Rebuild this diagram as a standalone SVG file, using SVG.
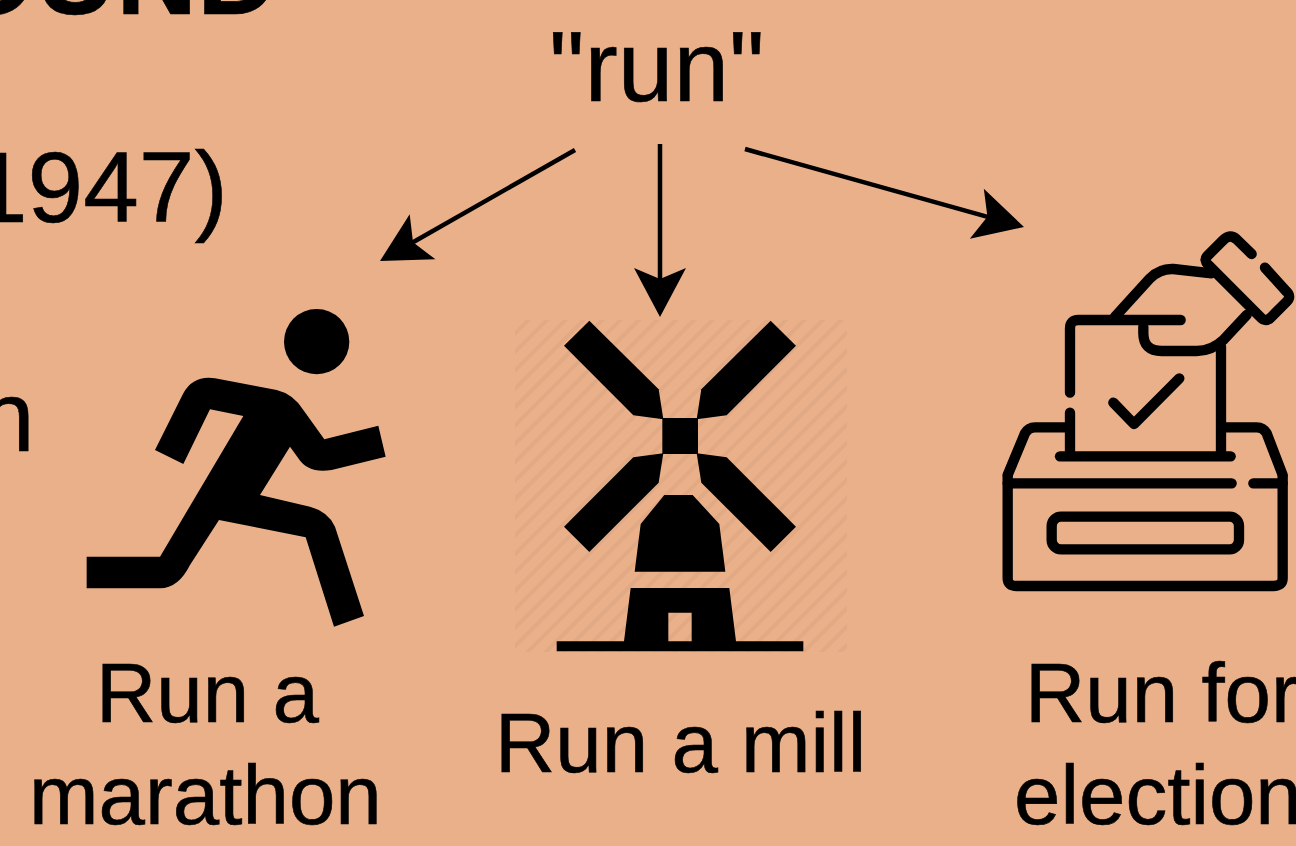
<svg xmlns="http://www.w3.org/2000/svg" width="1296" height="846" viewBox="0 0 1296 846">
<style>
text{font-family:"Liberation Sans",Arial,sans-serif;fill:#000;stroke:#000;stroke-width:.6px}
.big{font-size:100px}
.lab{font-size:83.5px}
.arrow{fill:none;stroke:#000;stroke-width:4.5px}
.line{fill:none;stroke:#000;stroke-width:31;stroke-linecap:round;stroke-linejoin:round}
</style>
<defs>
<marker id="head" markerUnits="userSpaceOnUse" markerWidth="56" markerHeight="60" refX="17" refY="30" orient="auto" viewBox="0 0 56 60">
<path d="M3,4 L52,30 L3,56 L14,30 Z" fill="#000"/>
</marker>
<pattern id="hatch" width="13" height="13" patternUnits="userSpaceOnUse" patternTransform="rotate(-45)">
<rect width="13" height="13" fill="#e9b08a"/>
<rect width="13" height="4" fill="#e2aa84"/>
</pattern>
<filter id="soft" x="-5%" y="-5%" width="110%" height="110%"><feGaussianBlur stdDeviation="0.6"/></filter>
</defs>
<rect id="background" width="1296" height="846" fill="#e9b08a"/>
<g id="cut-text">
<text x="278" y="14" text-anchor="end" font-size="112" font-weight="700">OUND</text>
<text class="big" x="-28" y="222">1947)</text>
<text class="big" x="-21" y="451">n</text>
</g>
<g id="word-run"><text class="big" x="549" y="100.5">"run"</text></g>
<g id="connectors">
<path class="arrow" marker-end="url(#head)" d="M575,150 L410.4,243.7"/>
<path class="arrow" marker-end="url(#head)" d="M660,144 L660,282"/>
<path class="arrow" marker-end="url(#head)" d="M745,149 L990.3,217.6"/>
</g>
<g id="marathon">
<g transform="translate(60 290) scale(.33333)" filter="url(#soft)">
<circle cx="770" cy="155" r="98"/>
<path d="M80,800 H300 L550,378 L450,358 L370,522 L285,480 L370,310 Q400,255 465,265 L650,300 Q700,312 730,360 L793,448 L955,407 L977,500 L815,540 Q745,552 715,505 L690,470 L600,615 L750,650 Q805,665 825,710 L912,978 L822,1010 L737,742 L477,690 L390,825 Q355,895 300,895 H80 Z"/>
</g>
<text class="lab" x="96" y="722">Run a</text>
<text class="lab" x="29" y="824">marathon</text>
</g>
<g id="mill">
<rect x="515" y="320" width="332" height="332" fill="url(#hatch)"/>
<g transform="translate(500 300) scale(.33333)" filter="url(#soft)">
<path d="M268,62 L192,137 L400,346 L490,358 L476,268 Z"/>
<path d="M812,62 L888,137 L680,346 L590,358 L604,268 Z"/>
<path d="M192,680 L268,756 L476,548 L490,460 L400,472 Z"/>
<path d="M888,680 L812,756 L604,548 L590,460 L680,472 Z"/>
<rect x="487" y="354" width="107" height="108"/>
<path d="M493,585 H578 L658,672 L676,815 H404 L422,672 Z"/>
<path fill-rule="evenodd" d="M392,864 H688 L708,1024 H910 V1054 H170 V1024 H372 Z M505,938 V1024 H575 V938 Z"/>
</g>
<text class="lab" x="495" y="772">Run a mill</text>
</g>
<g id="election">
<g transform="translate(990 220) scale(.33333)" class="line" filter="url(#soft)">
<path d="M53,770 V1075 Q53,1098 80,1098 H850 Q878,1098 878,1075 V770"/>
<path d="M53,790 H725 M790,790 H878"/>
<path d="M53,765 L105,640 Q115,622 135,622 H235 M695,622 H800 Q820,622 830,640 L878,765"/>
<path d="M210,709 H722"/>
<rect x="185" y="890" width="562" height="98" rx="28"/>
<path d="M240,518 V325 Q240,300 265,300 H572 M240,578 V700 M693,380 V700"/>
<path d="M370,548 L432,612 L568,475"/>
<path d="M460,320 V340 Q460,393 515,393 H620 Q665,393 700,360 L770,285"/>
<path d="M375,290 L480,175 Q510,145 550,147 L665,160"/>
<path d="M785,102 L740,58 Q720,40 700,60 L652,108 Q640,120 655,135 L815,295 Q825,305 840,295 L890,245 Q905,230 890,215 L825,143"/>
</g>
<text class="lab" x="1025" y="722">Run for</text>
<text class="lab" x="1014" y="824">election</text>
</g>
</svg>
